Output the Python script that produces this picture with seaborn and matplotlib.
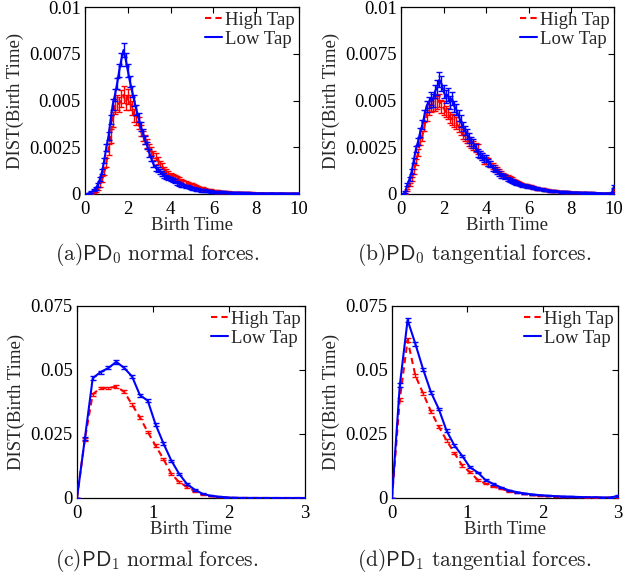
import numpy as np
import pandas as pd
import matplotlib
matplotlib.use("Agg")
import matplotlib.pyplot as plt
import seaborn as sns

sns.set_theme(style="white")
plt.rcParams['font.family'] = ['Liberation Serif', 'DejaVu Serif']
plt.rcParams['mathtext.fontset'] = 'cm'

# ---------------- data ----------------
# PD0: birth time grid 0..10 step 0.1 ; values in units of 1e-4
pd0_x = np.round(np.arange(101) * 0.1, 1)

a_high = [0, 0, 0, 0.5, 1, 2, 3, 5, 8, 12,
          17, 24, 31, 40, 47, 49, 48, 51, 53, 49,
          52, 49, 46, 42, 40, 38, 34, 31, 29, 27,
          25, 23, 21, 20, 18, 16, 15, 13, 12, 11,
          10, 9.5, 9, 8.5, 8, 7, 6.5, 6, 5.5, 5,
          5, 4.5, 4, 3.5, 3, 2.8, 2.5, 2.2, 2, 1.8,
          1.5, 1.4, 1.3, 1.2, 1.1, 1.0, 0.9, 0.9, 0.8, 0.8,
          0.7, 0.7, 0.6, 0.6, 0.6, 0.5, 0.5, 0.5, 0.5, 0.4,
          0.4, 0.4, 0.4, 0.4, 0.4, 0.3, 0.3, 0.3, 0.3, 0.3,
          0.3, 0.3, 0.3, 0.2, 0.2, 0.2, 0.2, 0.2, 0.2, 0.2, 0.2]
a_high_err = [0, 0, 0, 0.3, 0.5, 0.8, 1, 1.2, 1.5, 2,
              2.5, 3, 3.5, 4, 4, 4, 4, 4.5, 4.5, 4,
              4, 4, 3.5, 3.5, 3, 3, 3, 2.5, 2.5, 2.5,
              2, 2, 2, 2, 1.8, 1.8, 1.5, 1.5, 1.5, 1.5,
              1.2, 1.2, 1.2, 1.2, 1.2, 1, 1, 1, 1, 1,
              1, 0.8, 0.8, 0.8, 0.8, 0.8, 0.7, 0.7, 0.7, 0.7,
              0.6, 0.6, 0.6, 0.6, 0.6, 0.5, 0.5, 0.5, 0.5, 0.5,
              0.5, 0.5, 0.5, 0.5, 0.5, 0.4, 0.4, 0.4, 0.4, 0.4,
              0.4, 0.4, 0.4, 0.4, 0.4, 0.4, 0.4, 0.4, 0.4, 0.4,
              0.4, 0.4, 0.4, 0.4, 0.4, 0.4, 0.4, 0.4, 0.4, 0.4, 0.4]
a_low = [0, 0, 0.5, 1, 2, 3, 5, 8, 12, 18,
         25, 31, 40, 48, 53, 59, 66, 72, 77, 72,
         66, 60, 55, 50, 45, 41, 36, 33, 29, 26,
         22, 19, 16, 14, 13, 12, 11, 10, 9, 8.5,
         8, 7.5, 7, 6, 5.5, 5, 4.5, 4, 4, 3.5,
         3, 3, 2.5, 2.5, 2, 2, 1.8, 1.6, 1.5, 1.3,
         1.2, 1.1, 1.0, 1.0, 0.9, 0.9, 0.8, 0.8, 0.7, 0.7,
         0.6, 0.6, 0.6, 0.5, 0.5, 0.5, 0.5, 0.4, 0.4, 0.4,
         0.4, 0.3, 0.3, 0.3, 0.3, 0.3, 0.3, 0.3, 0.3, 0.3,
         0.3, 0.3, 0.2, 0.2, 0.2, 0.2, 0.2, 0.2, 0.2, 0.2, 0.3]
a_low_err = [0, 0, 0.3, 0.5, 0.5, 0.8, 1, 1, 1.2, 1.5,
             2, 2, 2.5, 3, 3, 3, 3.5, 3.5, 4, 3.5,
             3.5, 3, 3, 3, 2.5, 2.5, 2.5, 2, 2, 2,
             2, 1.5, 1.5, 1.5, 1.5, 1.5, 1.5, 1.2, 1.2, 1.2,
             1, 1, 1, 1, 1, 1, 1, 1, 1, 0.8,
             0.8, 0.8, 0.8, 0.8, 0.7, 0.7, 0.7, 0.7, 0.6, 0.6,
             0.6, 0.6, 0.5, 0.5, 0.5, 0.5, 0.5, 0.5, 0.5, 0.5,
             0.4, 0.4, 0.4, 0.4, 0.4, 0.4, 0.4, 0.4, 0.4, 0.4,
             0.4, 0.4, 0.4, 0.4, 0.4, 0.4, 0.4, 0.4, 0.4, 0.4,
             0.4, 0.4, 0.4, 0.4, 0.4, 0.4, 0.4, 0.4, 0.4, 0.4, 0.4]

b_high = [0, 0, 0, 2, 5, 8, 12, 17, 22, 28,
          31, 36, 42, 45, 47, 48, 48, 49, 50, 47,
          46, 44, 43, 41, 40, 39, 38, 36, 34, 32,
          31, 30, 28, 27, 26, 25, 24, 21, 20, 18,
          18, 17, 16, 15, 14, 13, 12, 11, 10, 9.5,
          9, 8.5, 8, 7, 6.5, 6, 5.5, 5, 4.8, 4.4,
          4.2, 3.9, 3.6, 3.3, 3.0, 2.8, 2.6, 2.4, 2.2, 2.0,
          1.8, 1.7, 1.6, 1.5, 1.4, 1.3, 1.2, 1.1, 1.0, 1.0,
          0.9, 0.9, 0.8, 0.8, 0.7, 0.7, 0.6, 0.6, 0.5, 0.5,
          0.5, 0.4, 0.4, 0.4, 0.3, 0.3, 0.3, 0.3, 0.3, 0.3, 2]
b_high_err = [0, 0, 0, 0.5, 0.8, 1, 1.2, 1.5, 1.8, 2,
              2.5, 2.5, 3, 3, 3, 3.5, 3.5, 3.5, 3.5, 3.5,
              3.5, 3, 3, 3, 3, 3, 3, 3, 2.5, 2.5,
              2.5, 2.5, 2.5, 2.5, 2.5, 2.5, 2.5, 2, 2, 2,
              2, 2, 1.8, 1.8, 1.5, 1.5, 1.5, 1.2, 1.2, 1.2,
              1, 1, 1, 1, 1, 1, 0.8, 0.8, 0.8, 0.8,
              0.7, 0.7, 0.7, 0.7, 0.6, 0.6, 0.6, 0.6, 0.5, 0.5,
              0.5, 0.5, 0.5, 0.5, 0.4, 0.4, 0.4, 0.4, 0.4, 0.4,
              0.4, 0.4, 0.4, 0.4, 0.4, 0.4, 0.4, 0.4, 0.4, 0.4,
              0.4, 0.4, 0.4, 0.4, 0.4, 0.4, 0.4, 0.4, 0.4, 0.4, 0.6]
b_low = [0, 0, 1, 5, 8, 12, 18, 24, 28, 33,
         37, 42, 47, 49, 51, 50, 55, 57, 61, 59,
         55, 52, 53, 49, 51, 47, 45, 42, 39, 36,
         34, 32, 30, 28, 27, 25, 22, 21, 20, 19,
         19, 17, 16, 14, 13, 12, 11, 10, 9.5, 9,
         8, 7.5, 7, 6.5, 6, 5.5, 5, 4.8, 4.5, 4.2,
         4, 3.7, 3.4, 3.1, 2.9, 2.7, 2.5, 2.3, 2.1, 1.9,
         1.7, 1.6, 1.5, 1.4, 1.3, 1.2, 1.1, 1.0, 1.0, 0.9,
         0.9, 0.8, 0.8, 0.7, 0.7, 0.6, 0.6, 0.6, 0.5, 0.5,
         0.5, 0.4, 0.4, 0.4, 0.4, 0.3, 0.3, 0.3, 0.3, 0.5, 4]
b_low_err = [0, 0, 0.5, 0.8, 1, 1.2, 1.5, 1.8, 2, 2.5,
             2.5, 3, 3, 3, 3.5, 3.5, 3.5, 4, 4, 4,
             3.5, 3.5, 3.5, 3.5, 3.5, 3, 3, 3, 3, 2.5,
             2.5, 2.5, 2.5, 2.5, 2.5, 2, 2, 2, 2, 2,
             2, 1.8, 1.8, 1.5, 1.5, 1.5, 1.2, 1.2, 1.2, 1,
             1, 1, 1, 1, 1, 0.8, 0.8, 0.8, 0.8, 0.8,
             0.7, 0.7, 0.7, 0.6, 0.6, 0.6, 0.6, 0.5, 0.5, 0.5,
             0.5, 0.5, 0.5, 0.4, 0.4, 0.4, 0.4, 0.4, 0.4, 0.4,
             0.4, 0.4, 0.4, 0.4, 0.4, 0.4, 0.4, 0.4, 0.4, 0.4,
             0.4, 0.4, 0.4, 0.4, 0.4, 0.4, 0.4, 0.4, 0.4, 0.4, 0.8]

# PD1: birth time grid 0..3, 30 bins ; values in units of 1e-3
pd1_x = np.linspace(0, 3, 30)

c_high = [0, 23, 40.5, 43, 43, 43.5, 41.5, 36.5, 31.5, 25.8,
          20.4, 15.2, 9.4, 6.2, 4.3, 2.6, 1.4, 0.8, 0.4, 0.2,
          0.1, 0.05, 0.03, 0.02, 0.02, 0.01, 0.01, 0.01, 0.01, 0.01]
c_high_err = [0, 0.6, 0.6, 0.5, 0.5, 0.5, 0.5, 0.6, 0.5, 0.5,
              0.5, 0.4, 0.4, 0.3, 0.3, 0.2, 0.2, 0.1, 0.1, 0.1,
              0.05, 0.05, 0.05, 0.05, 0.05, 0.05, 0.05, 0.05, 0.05, 0.05]
c_low = [0, 23.2, 46.8, 49.2, 50.8, 53.2, 50.8, 47.5, 40.2, 38.0,
         28.7, 21.3, 14.6, 9.4, 5.4, 3.2, 1.6, 0.9, 0.5, 0.25,
         0.12, 0.06, 0.04, 0.03, 0.02, 0.02, 0.01, 0.01, 0.01, 0.01]
c_low_err = [0, 0.6, 0.7, 0.6, 0.6, 0.7, 0.6, 0.6, 0.6, 0.6,
             0.5, 0.5, 0.4, 0.4, 0.3, 0.3, 0.2, 0.1, 0.1, 0.1,
             0.05, 0.05, 0.05, 0.05, 0.05, 0.05, 0.05, 0.05, 0.05, 0.05]

d_high = [0, 38.5, 61.7, 47.8, 40.8, 33.8, 27.9, 22.5, 17.6, 12.7,
          10.1, 7.1, 5.6, 4.5, 3.6, 2.7, 2.1, 1.6, 1.2, 0.9,
          0.7, 0.5, 0.4, 0.3, 0.3, 0.2, 0.2, 0.1, 0.1, 0.3]
d_high_err = [0, 0.7, 0.8, 0.7, 0.6, 0.6, 0.5, 0.5, 0.5, 0.4,
              0.4, 0.3, 0.3, 0.3, 0.2, 0.2, 0.2, 0.1, 0.1, 0.1,
              0.1, 0.1, 0.1, 0.1, 0.1, 0.1, 0.1, 0.1, 0.1, 0.2]
d_low = [0, 44.0, 69.5, 60.2, 50.2, 41.3, 34.8, 26.3, 20.6, 16.5,
         12.0, 10.0, 7.0, 5.5, 4.1, 3.0, 2.3, 1.8, 1.4, 1.1,
         0.9, 0.7, 0.6, 0.5, 0.4, 0.3, 0.3, 0.2, 0.2, 0.8]
d_low_err = [0, 0.8, 0.9, 0.7, 0.6, 0.6, 0.5, 0.5, 0.5, 0.4,
             0.4, 0.3, 0.3, 0.3, 0.2, 0.2, 0.2, 0.1, 0.1, 0.1,
             0.1, 0.1, 0.1, 0.1, 0.1, 0.1, 0.1, 0.1, 0.1, 0.3]

pd0_yticks = [0, 0.0025, 0.005, 0.0075, 0.01]
pd0_yticklabels = ["0", "0.0025", "0.005", "0.0075", "0.01"]
pd0_xticks = [0, 2, 4, 6, 8, 10]
pd1_yticks = [0, 0.025, 0.05, 0.075]
pd1_yticklabels = ["0", "0.025", "0.05", "0.075"]
pd1_xticks = [0, 1, 2, 3]

series_names = ["High Tap", "Low Tap"]
captions = [r"$\mathrm{(a)}\mathsf{PD}_0\ \mathrm{normal\ forces.}$",
            r"$\mathrm{(b)}\mathsf{PD}_0\ \mathrm{tangential\ forces.}$",
            r"$\mathrm{(c)}\mathsf{PD}_1\ \mathrm{normal\ forces.}$",
            r"$\mathrm{(d)}\mathsf{PD}_1\ \mathrm{tangential\ forces.}$"]

# ---------------- figure ----------------
W, H = 625, 578
fig = plt.figure(figsize=(W / 100, H / 100), dpi=100)
fig.patch.set_facecolor("white")


def box(l, t, r, b):
    return [l / W, 1 - b / H, (r - l) / W, (b - t) / H]


FS = 13.5
RED = "#ff0000"
BLUE = "#0000ff"


def panel(rect, x, hi, hi_err, lo, lo_err, scale, xlim, xticks, ylim, yticks, ylabels):
    ax = fig.add_axes(rect)
    hi = np.asarray(hi) * scale
    lo = np.asarray(lo) * scale
    hi_err = np.asarray(hi_err) * scale
    lo_err = np.asarray(lo_err) * scale
    df = pd.DataFrame({"x": np.concatenate([x, x]),
                       "y": np.concatenate([hi, lo]),
                       "series": [series_names[0]] * len(x) + [series_names[1]] * len(x)})
    sns.lineplot(data=df[df.series == "High Tap"], x="x", y="y", color=RED,
                 linestyle=(0, (3, 2)), lw=1.5, ax=ax, label="High Tap", zorder=3)
    ax.errorbar(x, hi, yerr=hi_err, fmt="none", ecolor=RED, elinewidth=1.0,
                capsize=2, capthick=1.0, zorder=3)
    sns.lineplot(data=df[df.series == "Low Tap"], x="x", y="y", color=BLUE,
                 linestyle="-", lw=1.5, ax=ax, label="Low Tap", zorder=4)
    ax.errorbar(x, lo, yerr=lo_err, fmt="none", ecolor=BLUE, elinewidth=1.0,
                capsize=2, capthick=1.0, zorder=4)
    ax.set_xlim(*xlim)
    ax.set_ylim(*ylim)
    ax.set_xticks(xticks)
    ax.set_xticklabels([str(t) for t in xticks])
    ax.set_yticks(yticks)
    ax.set_yticklabels(ylabels)
    ax.tick_params(direction="in", length=4, width=0.8, top=True, right=True,
                   labelsize=FS, colors="black")
    ax.tick_params(axis="x", pad=5)
    ax.tick_params(axis="y", pad=3)
    for s in ax.spines.values():
        s.set_visible(True)
        s.set_color("black")
        s.set_linewidth(0.9)
    ax.set_xlabel("Birth Time", fontsize=FS, labelpad=-1)
    ax.set_ylabel("DIST(Birth Time)", fontsize=FS, labelpad=4)
    ax.legend(loc="upper right", frameon=False, fontsize=FS, handlelength=0.9,
              handletextpad=0.15, labelspacing=0.1, borderaxespad=0.15,
              borderpad=0.1)
    ax.grid(False)
    ax.set_facecolor("white")
    return ax


panel(box(85, 7, 299, 194), pd0_x, a_high, a_high_err, a_low, a_low_err, 1e-4,
      (0, 10), pd0_xticks, (0, 0.01), pd0_yticks, pd0_yticklabels)
panel(box(401, 7, 614, 194), pd0_x, b_high, b_high_err, b_low, b_low_err, 1e-4,
      (0, 10), pd0_xticks, (0, 0.01), pd0_yticks, pd0_yticklabels)
panel(box(77, 306, 305, 498), pd1_x, c_high, c_high_err, c_low, c_low_err, 1e-3,
      (0, 3), pd1_xticks, (0, 0.075), pd1_yticks, pd1_yticklabels)
panel(box(392, 306, 618, 498), pd1_x, d_high, d_high_err, d_low, d_low_err, 1e-3,
      (0, 3), pd1_xticks, (0, 0.075), pd1_yticks, pd1_yticklabels)

cap_pos = [(157, 255), (474, 255), (157, 561), (474, 561)]
for txt, (cx, cy) in zip(captions, cap_pos):
    fig.text(cx / W, 1 - cy / H, txt, ha="center", va="center", fontsize=15.5)

fig.savefig("out.png", dpi=100, facecolor="white")
